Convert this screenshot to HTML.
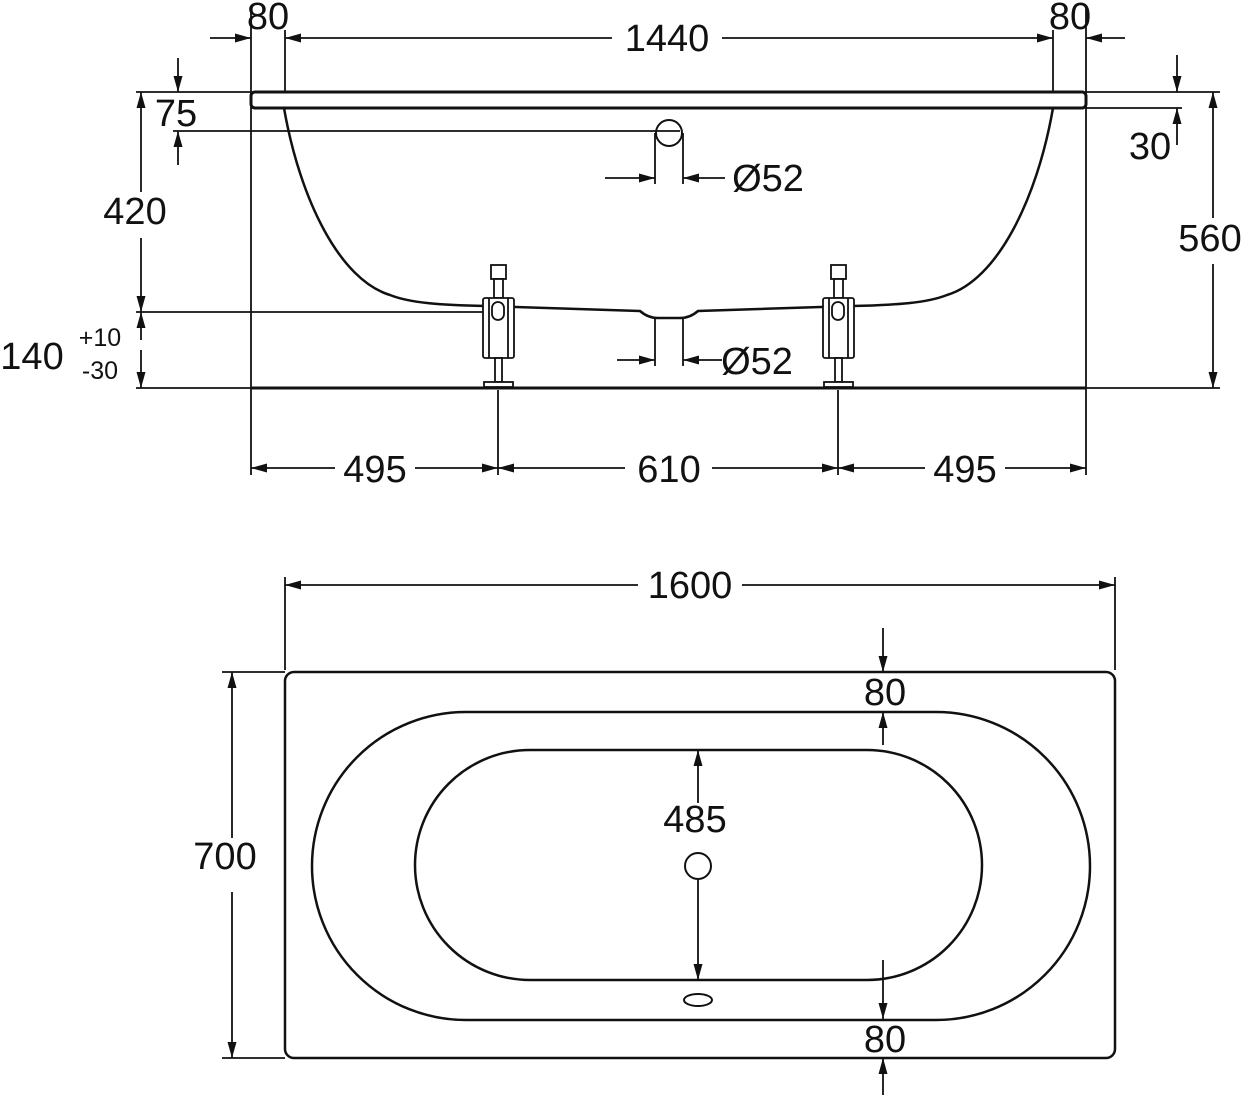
<!DOCTYPE html>
<html><head><meta charset="utf-8"><style>
html,body{margin:0;padding:0;background:#fff;}
svg{display:block;}
text{font-family:"Liberation Sans",Arial,sans-serif;fill:#111;}
</style></head><body>
<svg width="1245" height="1095" viewBox="0 0 1245 1095" xmlns="http://www.w3.org/2000/svg">
<defs>
<marker id="a" viewBox="0 0 16 9" refX="16" refY="4.5" markerWidth="16" markerHeight="9" markerUnits="userSpaceOnUse" orient="auto"><path d="M0,0 L16,4.5 L0,9 z" fill="#111"/></marker>
</defs>
<g stroke="#111" stroke-width="1.8" fill="none">
<line x1="251" y1="8" x2="251" y2="475"/>
<line x1="1086" y1="8" x2="1086" y2="475"/>
<line x1="285" y1="30" x2="285" y2="92"/>
<line x1="1053" y1="30" x2="1053" y2="92"/>
<line x1="136" y1="92" x2="251" y2="92"/>
<line x1="173" y1="131" x2="680" y2="131"/>
<line x1="136" y1="312" x2="490" y2="312"/>
<line x1="136" y1="388" x2="251" y2="388"/>
<line x1="1086" y1="92" x2="1220" y2="92"/>
<line x1="1086" y1="108" x2="1182" y2="108"/>
<line x1="1086" y1="388" x2="1220" y2="388"/>
<line x1="210" y1="38" x2="251" y2="38" marker-end="url(#a)"/>
<line x1="1125" y1="38" x2="1086" y2="38" marker-end="url(#a)"/>
<line x1="612" y1="38" x2="285" y2="38" marker-end="url(#a)"/>
<line x1="722" y1="38" x2="1053" y2="38" marker-end="url(#a)"/>
<line x1="178" y1="58" x2="178" y2="92" marker-end="url(#a)"/>
<line x1="178" y1="165" x2="178" y2="131" marker-end="url(#a)"/>
<line x1="141" y1="192" x2="141" y2="92" marker-end="url(#a)"/>
<line x1="141" y1="238" x2="141" y2="312" marker-end="url(#a)"/>
<line x1="141" y1="340" x2="141" y2="312" marker-end="url(#a)"/>
<line x1="141" y1="350" x2="141" y2="388" marker-end="url(#a)"/>
<line x1="1177" y1="55" x2="1177" y2="92" marker-end="url(#a)"/>
<line x1="1177" y1="145" x2="1177" y2="108" marker-end="url(#a)"/>
<line x1="1213" y1="218" x2="1213" y2="92" marker-end="url(#a)"/>
<line x1="1213" y1="264" x2="1213" y2="388" marker-end="url(#a)"/>
<line x1="655" y1="133" x2="655" y2="184"/>
<line x1="683" y1="133" x2="683" y2="184"/>
<line x1="605" y1="178" x2="655" y2="178" marker-end="url(#a)"/>
<line x1="725" y1="178" x2="683" y2="178" marker-end="url(#a)"/>
<line x1="655" y1="318" x2="655" y2="366"/>
<line x1="683" y1="318" x2="683" y2="366"/>
<line x1="617" y1="360" x2="655" y2="360" marker-end="url(#a)"/>
<line x1="722" y1="360" x2="683" y2="360" marker-end="url(#a)"/>
<line x1="498" y1="390" x2="498" y2="475"/>
<line x1="838" y1="390" x2="838" y2="475"/>
<line x1="335" y1="468" x2="251" y2="468" marker-end="url(#a)"/>
<line x1="415" y1="468" x2="498" y2="468" marker-end="url(#a)"/>
<line x1="625" y1="468" x2="498" y2="468" marker-end="url(#a)"/>
<line x1="712" y1="468" x2="838" y2="468" marker-end="url(#a)"/>
<line x1="925" y1="468" x2="838" y2="468" marker-end="url(#a)"/>
<line x1="1005" y1="468" x2="1086" y2="468" marker-end="url(#a)"/>
</g>
<g stroke="#111" fill="none">
<rect x="251" y="92" width="835" height="16" rx="4" stroke-width="3"/>
<circle cx="669" cy="133" r="13" stroke-width="2"/>
<path d="M284,108 C300,200 340,280 390,295 C410,303 440,305 485,306 L640,311 Q648,318 658,318 L680,318 Q690,318 698,311 L852,306 C897,305 927,303 947,295 C997,280 1037,200 1053,108" stroke-width="2.5"/>
<line x1="251" y1="388" x2="1086" y2="388" stroke-width="3"/>
</g>
<g stroke="#111" stroke-width="1.8" fill="#fff">
<g id="f">
<rect x="491" y="265" width="15" height="14"/>
<rect x="494" y="279" width="9" height="19"/>
<rect x="483" y="298" width="31" height="60" rx="2"/>
<line x1="489" y1="298" x2="489" y2="358"/>
<line x1="508" y1="298" x2="508" y2="358"/>
<rect x="492" y="302" width="12" height="18" rx="6"/>
<rect x="495" y="358" width="7" height="24"/>
<rect x="484" y="382" width="29" height="5"/>
</g>
<use href="#f" x="340"/>
</g>
<g font-size="38" text-anchor="middle">
<text x="268" y="29">80</text>
<text x="667" y="51">1440</text>
<text x="1070" y="29">80</text>
<text x="176" y="126">75</text>
<text x="135" y="224">420</text>
<text x="32" y="369">140</text>
<text x="1150" y="159">30</text>
<text x="1210" y="251">560</text>
<text x="768" y="191">Ø52</text>
<text x="757" y="374">Ø52</text>
<text x="375" y="482">495</text>
<text x="669" y="482">610</text>
<text x="965" y="482">495</text>
<text x="690" y="598">1600</text>
<text x="225" y="869">700</text>
<text x="695" y="832">485</text>
<text x="885" y="705">80</text>
<text x="885" y="1052">80</text>
</g>
<g font-size="25" text-anchor="middle">
<text x="100" y="346">+10</text>
<text x="100" y="379">-30</text>
</g>
<g stroke="#111" stroke-width="1.8" fill="none">
<line x1="285" y1="577" x2="285" y2="670"/>
<line x1="1115" y1="577" x2="1115" y2="670"/>
<line x1="638" y1="585" x2="285" y2="585" marker-end="url(#a)"/>
<line x1="742" y1="585" x2="1115" y2="585" marker-end="url(#a)"/>
<line x1="222" y1="672" x2="285" y2="672"/>
<line x1="222" y1="1058" x2="285" y2="1058"/>
<line x1="232" y1="838" x2="232" y2="672" marker-end="url(#a)"/>
<line x1="232" y1="892" x2="232" y2="1058" marker-end="url(#a)"/>
<line x1="698" y1="803" x2="698" y2="750" marker-end="url(#a)"/>
<line x1="698" y1="880" x2="698" y2="980" marker-end="url(#a)"/>
<line x1="883" y1="628" x2="883" y2="672" marker-end="url(#a)"/>
<line x1="883" y1="745" x2="883" y2="712" marker-end="url(#a)"/>
<line x1="883" y1="960" x2="883" y2="1019" marker-end="url(#a)"/>
<line x1="883" y1="1095" x2="883" y2="1058" marker-end="url(#a)"/>
</g>
<g stroke="#111" stroke-width="2.5" fill="none">
<rect x="285" y="672" width="830" height="386" rx="9"/>
<rect x="312" y="712" width="778" height="308" rx="154"/>
<rect x="415" y="750" width="567" height="230" rx="115"/>
<circle cx="698" cy="866" r="13" stroke-width="2"/>
<ellipse cx="698" cy="1000" rx="14" ry="6" stroke-width="2"/>
</g>
</svg>
</body></html>
